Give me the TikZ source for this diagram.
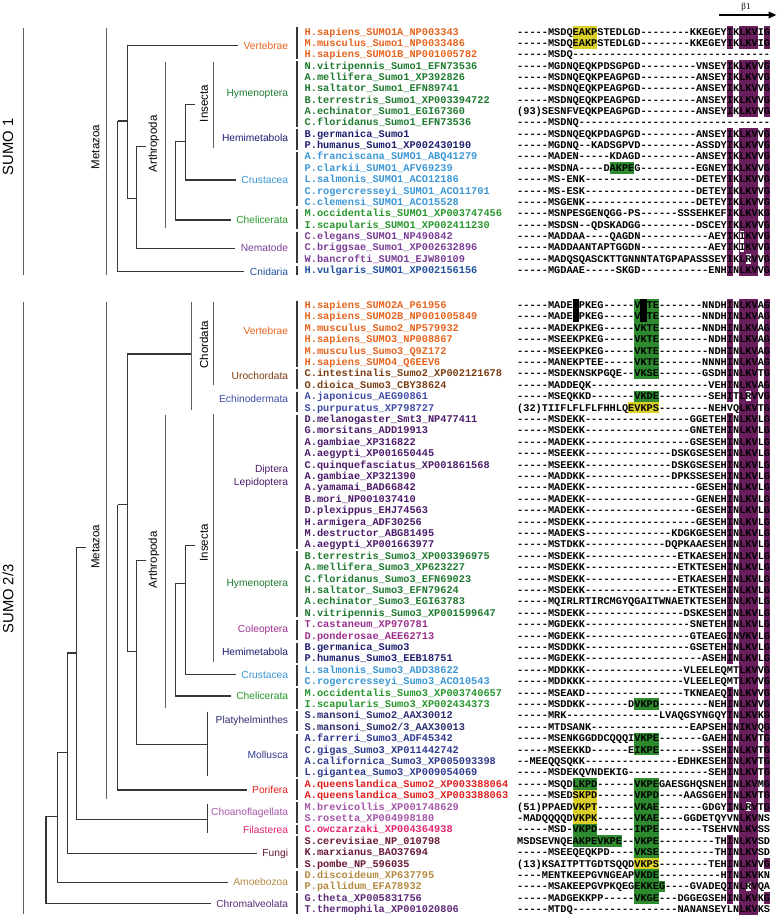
\documentclass[tikz,border=0pt]{standalone}
\usepackage{fontspec}
\usetikzlibrary{arrows.meta}
\newfontfamily\seqfont{Liberation Mono}[Ligatures=TeXOff]
\newfontfamily\labfont{Liberation Sans}
\newfontfamily\betafont{Liberation Serif}
\ExplSyntaxOn
\cs_new:Npn \gaps #1 { \prg_replicate:nn {#1} { -{} } }
\ExplSyntaxOff
\definecolor{treegrey}{RGB}{55,55,55}
\definecolor{bargrey}{RGB}{95,95,95}
\definecolor{hlpurple}{RGB}{106,30,94}
\definecolor{hlgreen}{RGB}{46,138,46}
\definecolor{hlyellow}{RGB}{220,208,40}
\definecolor{vertcol}{RGB}{230,100,30}
\definecolor{hymcol}{RGB}{30,122,48}
\definecolor{hemicol}{RGB}{30,30,112}
\definecolor{crustcol}{RGB}{58,150,214}
\definecolor{chelcol}{RGB}{40,150,44}
\definecolor{nemcol}{RGB}{122,62,150}
\definecolor{cnidcol}{RGB}{32,80,160}
\definecolor{urocol}{RGB}{122,62,20}
\definecolor{echicol}{RGB}{62,76,168}
\definecolor{diptcol}{RGB}{76,26,106}
\definecolor{colecol}{RGB}{156,46,142}
\definecolor{platcol}{RGB}{44,46,112}
\definecolor{mollcol}{RGB}{46,58,142}
\definecolor{poricol}{RGB}{226,30,30}
\definecolor{choacol}{RGB}{166,86,168}
\definecolor{filacol}{RGB}{226,36,112}
\definecolor{fungcol}{RGB}{106,24,60}
\definecolor{amoecol}{RGB}{180,138,64}
\definecolor{chromcol}{RGB}{92,42,118}
\begin{document}
\begin{tikzpicture}[x=1pt, y=-1pt,
    declare function={ty(\q)=31.7+11.35*(\q-1); by(\q)=305+11.4*(\q-1); cx(\q)=517+6.17*(\q-1);},
    seqname/.style={font=\seqfont\bfseries\fontsize{10.28}{12}\selectfont, anchor=base west, inner sep=0pt},
    seqtext/.style={seqname, text=black},
    taxon/.style={font=\labfont\fontsize{10.25}{12.8}\selectfont, anchor=east, inner xsep=5.5pt, inner ysep=0pt, text height=7.3pt, text depth=0pt},
    clade/.style={font=\labfont\fontsize{11.5}{13}\selectfont, rotate=90, inner sep=0pt},
    sumo/.style={font=\labfont\fontsize{14.8}{17}\selectfont, rotate=90, inner sep=0pt},
    branch/.style={draw=treegrey, line width=1.2pt},
    bracket/.style={draw=bargrey, line width=1pt},
    groupbar/.style={draw=treegrey, line width=1.1pt},
    notch/.style={fill=white}
]
\useasboundingbox (0,0) rectangle (777,916);

% conserved columns
\foreach \a/\b in {1/2,4/8,10/22}{
  \fill[hlpurple] ({cx(35)},{ty(\a)-5.7}) rectangle ({cx(36)},{ty(\b)+5.7});
  \fill[hlpurple] ({cx(37)},{ty(\a)-5.7}) rectangle ({cx(40)},{ty(\b)+5.7});
  \fill[hlpurple] ({cx(41)},{ty(\a)-5.7}) rectangle ({cx(42)},{ty(\b)+5.7});
}
\foreach \a/\b in {1/9,11/32,35/45,48/53}
  \fill[hlpurple] ({cx(35)},{by(\a)-5.7}) rectangle ({cx(36)},{by(\b)+5.7});
\fill[hlpurple] ({cx(37)},{by(1)-5.7}) rectangle ({cx(40)},{by(54)+5.7});
\foreach \a/\b in {1/45,50/50,53/53}
  \fill[hlpurple] ({cx(41)},{by(\a)-5.7}) rectangle ({cx(42)},{by(\b)+5.7});
\fill[notch] ({cx(37)+0.9},{ty(19)-4.8}) rectangle ({cx(38)-0.9},{ty(20)+4.8});
\fill[notch] ({cx(38)+0.9},{ty(21)-4.8}) rectangle ({cx(39)-0.9},{ty(21)+4.8});
\foreach \w in {9,45,52}
  \fill[notch] ({cx(38)+0.9},{by(\w)-4.8}) rectangle ({cx(39)-0.9},{by(\w)+4.8});

% motif boxes
\fill[hlyellow] ({cx(10)},{ty(1)-5.7}) rectangle ({cx(14)},{ty(2)+5.7});
\fill[hlgreen] ({cx(16)},{ty(13)-5.7}) rectangle ({cx(20)},{ty(13)+5.7});
\fill[hlgreen] ({cx(20)},{by(1)-5.7}) rectangle ({cx(24)},{by(7)+5.7});
\fill[black] ({cx(10)},{by(1)-5.7}) rectangle ({cx(11)},{by(2)+5.7});
\fill[black] ({cx(21)},{by(1)-5.7}) rectangle ({cx(22)},{by(2)+5.7});
\fill[hlgreen] ({cx(20)},{by(9)-5.7}) rectangle ({cx(24)},{by(9)+5.7});
\fill[hlyellow] ({cx(19)},{by(10)-5.7}) rectangle ({cx(24)},{by(10)+5.7});
\fill[hlgreen] ({cx(20)},{by(36)-5.7}) rectangle ({cx(24)},{by(36)+5.7});
\fill[hlgreen] ({cx(20)},{by(39)-5.7}) rectangle ({cx(24)},{by(40)+5.7});
\fill[hlgreen] ({cx(10)},{by(43)-5.7}) rectangle ({cx(14)},{by(43)+5.7});
\fill[hlyellow] ({cx(10)},{by(44)-5.7}) rectangle ({cx(14)},{by(46)+5.7});
\fill[hlgreen] ({cx(10)},{by(47)-5.7}) rectangle ({cx(14)},{by(48)+5.7});
\fill[hlgreen] ({cx(14)},{by(48)-5.7}) rectangle ({cx(18)},{by(48)+5.7});
\fill[hlgreen] ({cx(20)},{by(43)-5.7}) rectangle ({cx(24)},{by(49)+5.7});
\fill[hlyellow] ({cx(20)},{by(50)-5.7}) rectangle ({cx(24)},{by(50)+5.7});
\fill[hlgreen] ({cx(20)},{by(51)-5.7}) rectangle ({cx(24)},{by(53)+5.7});
\fill[hlgreen] ({cx(24)},{by(52)-5.7}) rectangle ({cx(25)},{by(52)+5.7});

% SUMO 1 sequences
\foreach \sp/\cl/\sq [count=\i] in {
  H.sapiens\_SUMO1A\_NP003343/vertcol/\gaps{5}MSDQEAKPSTEDLGD\gaps{8}KKEGEYIKLKVIG,
  M.musculus\_Sumo1\_NP0033486/vertcol/\gaps{5}MSDQEAKPSTEDLGD\gaps{8}KKEGEYIKLKVIG,
  H.sapiens\_SUMO1B\_NP001005782/vertcol/\gaps{5}MSDQ\gaps{32},
  N.vitripennis\_Sumo1\_EFN73536/hymcol/\gaps{5}MGDNQEQKPDSGPGD\gaps{9}VNSEYIKLKVVG,
  A.mellifera\_Sumo1\_XP392826/hymcol/\gaps{5}MSDNQEQKPEAGPGD\gaps{9}ANSEYIKLKVVG,
  H.saltator\_Sumo1\_EFN89741/hymcol/\gaps{5}MSDNQEQKPEAGPGD\gaps{9}ANSEYIKLKVVG,
  B.terrestris\_Sumo1\_XP003394722/hymcol/\gaps{5}MSDNQEQKPEAGPGD\gaps{9}ANSEYIKLKVVG,
  A.echinator\_Sumo1\_EGI67360/hymcol/(93)SESNFVEQKPEAGPGD\gaps{9}ANSEYIKLKVVG,
  C.floridanus\_Sumo1\_EFN73536/hymcol/\gaps{5}MSDNQ\gaps{31},
  B.germanica\_Sumo1/hemicol/\gaps{5}MSDNQEQKPDAGPGD\gaps{9}ANSEYIKLKVVG,
  P.humanus\_Sumo1\_XP002430190/hemicol/\gaps{5}MGDNQ\gaps{2}KADSGPVD\gaps{9}ASSDYIKLKVVG,
  A.franciscana\_SUMO1\_ABQ41279/crustcol/\gaps{5}MADEN\gaps{5}KDAGD\gaps{9}ANSEYIKLKVVG,
  P.clarkii\_SUMO1\_AFV69239/crustcol/\gaps{5}MSDNA\gaps{4}DAKPEG\gaps{9}EGNEYIKLKVVG,
  L.salmonis\_SUMO1\_ACO12186/crustcol/\gaps{5}MS-ENK\gaps{18}DETEYIKLKVVG,
  C.rogercresseyi\_SUMO1\_ACO11701/crustcol/\gaps{5}MS-ESK\gaps{18}DETEYIKLKVVG,
  C.clemensi\_SUMO1\_ACO15528/crustcol/\gaps{5}MSGENK\gaps{18}DETEYIKLKVVG,
  M.occidentalis\_SUMO1\_XP003747456/chelcol/\gaps{5}MSNPESGENQGG-PS\gaps{6}SSSEHKEFIKLKVKG,
  I.scapularis\_SUMO1\_XP002411230/chelcol/\gaps{5}MSDSN\gaps{2}QDSKADGG\gaps{9}DSCEYIKLKVVG,
  C.elegans\_SUMO1\_NP490842/nemcol/\gaps{5}MADDAA\gaps{4}QAGDN\gaps{11}AEYIKIKVVG,
  C.briggsae\_Sumo1\_XP002632896/nemcol/\gaps{5}MADDAANTAPTGGDN\gaps{11}AEYIKIKVVG,
  W.bancrofti\_SUMO1\_EJW80109/nemcol/\gaps{5}MADQSQASCKTTGNNNTATGPAPASSSEYIKLRVVG,
  H.vulgaris\_SUMO1\_XP002156156/cnidcol/\gaps{5}MGDAAE\gaps{5}SKGD\gaps{11}ENHINLKVVG}{
  \node[seqname, text=\cl] (spa\i) at (304.5,{ty(\i)+3.4}) {\sp};
  \node[seqtext] (ala\i) at (517,{ty(\i)+3.4}) {\sq};
}

% SUMO 2/3 sequences
\foreach \sp/\cl/\sq [count=\i] in {
  H.sapiens\_SUMO2A\_P61956/vertcol/\gaps{5}MADEKPKEG\gaps{5}VKTE\gaps{7}NNDHINLKVAG,
  H.sapiens\_SUMO2B\_NP001005849/vertcol/\gaps{5}MADEKPKEG\gaps{5}VKTE\gaps{7}NNDHINLKVAG,
  M.musculus\_Sumo2\_NP579932/vertcol/\gaps{5}MADEKPKEG\gaps{5}VKTE\gaps{7}NNDHINLKVAG,
  H.sapiens\_SUMO3\_NP008867/vertcol/\gaps{5}MSEEKPKEG\gaps{5}VKTE\gaps{8}NDHINLKVAG,
  M.musculus\_Sumo3\_Q9Z172/vertcol/\gaps{5}MSEEKPKEG\gaps{5}VKTE\gaps{8}NDHINLKVAG,
  H.sapiens\_SUMO4\_Q6EEV6/vertcol/\gaps{5}MANEKPTEE\gaps{5}VKTE\gaps{7}NNNHINLKVAG,
  C.intestinalis\_Sumo2\_XP002121678/urocol/\gaps{5}MSDEKNSKPGQE\gaps{2}VKSE\gaps{7}GSDHINLKVTG,
  O.dioica\_Sumo3\_CBY38624/urocol/\gaps{5}MADDEQK\gaps{19}VEHINLKVAG,
  A.japonicus\_AEG90861/echicol/\gaps{5}MSEQKKD\gaps{7}VKDE\gaps{8}SEHITLRVVG,
  S.purpuratus\_XP798727/echicol/(32)TIIFLFLFLFHHLQEVKPS\gaps{8}NEHVQLKVTG,
  D.melanogaster\_Smt3\_NP477411/diptcol/\gaps{5}MSDEKK\gaps{17}GGETEHINLKVLG,
  G.morsitans\_ADD19913/diptcol/\gaps{5}MSDEKK\gaps{17}GNETEHINLKVLG,
  A.gambiae\_XP316822/diptcol/\gaps{5}MADEKK\gaps{17}GSESEHINLKVLG,
  A.aegypti\_XP001650445/diptcol/\gaps{5}MSEEKK\gaps{14}DSKGSESEHINLKVLG,
  C.quinquefasciatus\_XP001861568/diptcol/\gaps{5}MSEEKK\gaps{14}DSKGSESEHINLKVLG,
  A.gambiae\_XP321390/diptcol/\gaps{5}MADDKK\gaps{14}DPKSSESEHINLKVLG,
  A.yamamai\_BAD66842/diptcol/\gaps{5}MADEKK\gaps{18}GESEHINLKVLG,
  B.mori\_NP001037410/diptcol/\gaps{5}MADEKK\gaps{18}GENEHINLKVLG,
  D.plexippus\_EHJ74563/diptcol/\gaps{5}MADEKK\gaps{18}GESEHINLKVLG,
  H.armigera\_ADF30256/diptcol/\gaps{5}MSDEKK\gaps{18}GESEHINLKVLG,
  M.destructor\_ABG81495/diptcol/\gaps{5}MADEKS\gaps{14}KDGKGESEHINLKVLG,
  A.aegypti\_XP001663977/diptcol/\gaps{5}MSTDKK\gaps{13}DQPKAAESEHINLKVLG,
  B.terrestris\_Sumo3\_XP003396975/hymcol/\gaps{5}MSDEKK\gaps{15}ETKAESEHINLKVLG,
  A.mellifera\_Sumo3\_XP623227/hymcol/\gaps{5}MSDEKK\gaps{15}ETKTESEHINLKVLG,
  C.floridanus\_Sumo3\_EFN69023/hymcol/\gaps{5}MSDEKK\gaps{15}ETKAESEHINLKVLG,
  H.saltator\_Sumo3\_EFN79624/hymcol/\gaps{5}MSDEKK\gaps{15}ETKTESEHINLKVLG,
  A.echinator\_Sumo3\_EGI63783/hymcol/\gaps{5}MQIRLRTIRCMGYQGAITWNAETKTESEHINLKVLG,
  N.vitripennis\_Sumo3\_XP001599647/hymcol/\gaps{5}MSDEKK\gaps{16}DSKESEHINLKVLG,
  T.castaneum\_XP970781/colecol/\gaps{5}MGDEKK\gaps{17}SNETEHINLKVLG,
  D.ponderosae\_AEE62713/colecol/\gaps{5}MGDEKK\gaps{17}GTEAEGINVKVLG,
  B.germanica\_Sumo3/hemicol/\gaps{5}MSDDKK\gaps{17}GSETEHINLKVLG,
  P.humanus\_Sumo3\_EEB18751/hemicol/\gaps{5}MGDEKK\gaps{19}ASEHINLKVLG,
  L.salmonis\_Sumo3\_ADD38622/crustcol/\gaps{5}MDDKKK\gaps{16}VLEELEQMTLKVVG,
  C.rogercresseyi\_Sumo3\_ACO10543/crustcol/\gaps{5}MDDKKK\gaps{16}VLEELEQMTLKVVG,
  M.occidentalis\_Sumo3\_XP003740657/chelcol/\gaps{5}MSEAKD\gaps{16}TKNEAEQINLKVVG,
  I.scapularis\_Sumo3\_XP002434373/chelcol/\gaps{5}MSDDKK\gaps{7}DVKPD\gaps{8}NEHINLKVVG,
  S.mansoni\_Sumo2\_AAX30012/platcol/\gaps{5}MRK\gaps{15}LVAQGSYNGQYINLKVKG,
  S.mansoni\_Sumo2\slash3\_AAX30013/platcol/\gaps{5}MTDSANK\gaps{16}EAPSEHINIKVQG,
  A.farreri\_Sumo3\_ADF45342/mollcol/\gaps{5}MSENKGGDDCQQQIVKPE\gaps{7}GAEHINLKVTG,
  C.gigas\_Sumo3\_XP011442742/mollcol/\gaps{5}MSEEKKD\gaps{6}EIKPE\gaps{7}SSEHINLKVTG,
  A.californica\_Sumo3\_XP005093398/mollcol/\gaps{2}MEEQQSQKK\gaps{15}EDHKESEHINLKVTG,
  L.gigantea\_Sumo3\_XP009054069/mollcol/\gaps{5}MSDEKQVNDEKIG\gaps{13}SEHINLKVTG,
  A.queenslandica\_Sumo2\_XP003388064/poricol/\gaps{5}MSQDLKPD\gaps{6}VKPEGAESGHQSNEHINLKVMG,
  A.queenslandica\_Sumo3\_XP003388063/poricol/\gaps{5}MSEDSKPD\gaps{6}VKPD\gaps{4}AAGSGEHINLKVTG,
  M.brevicollis\_XP001748629/choacol/(51)PPAEDVKPT\gaps{6}VKAE\gaps{7}GDGYINLRVTG,
  S.rosetta\_XP004998180/choacol/\gaps{1}MADQQQQDVKPK\gaps{6}VKAE\gaps{4}GGDETQYVNLKVNS,
  C.owczarzaki\_XP004364938/filacol/\gaps{5}MSD-VKPD\gaps{6}IKPE\gaps{7}TSEHVNLKVSS,
  S.cerevisiae\_NP\_010798/fungcol/MSDSEVNQEAKPEVKPE\gaps{2}VKPE\gaps{9}THINLKVSD,
  K.marxianus\_BAO37694/fungcol/\gaps{5}MSEEQEQKPD\gaps{4}VKSE\gaps{9}THINLKVSD,
  S.pombe\_NP\_596035/fungcol/(13)KSAITPTTGDTSQQDVKPS\gaps{8}TEHINLKVVG,
  D.discoideum\_XP637795/amoecol/\gaps{4}MENTKEEPGVNGEAPVKDE\gaps{10}HINLKVKN,
  P.pallidum\_EFA78932/amoecol/\gaps{5}MSAKEEPGVPKQEGEKKEG\gaps{4}GVADEQINLRVQA,
  G.theta\_XP005831756/chromcol/\gaps{5}MADGEKKPP\gaps{5}VKGE\gaps{3}DGGEGSEHINLKVKG,
  T.thermophila\_XP001020806/chromcol/\gaps{5}MTDQ\gaps{17}NANANSEYLNLKVKS}{
  \node[seqname, text=\cl] (spb\i) at (304.5,{by(\i)+3.4}) {\sp};
  \node[seqtext] (alb\i) at (517,{by(\i)+3.4}) {\sq};
}

% group bars
\foreach \a/\b in {1/3,4/9,10/11,12/16,17/18,19/21,22/22}
  \draw[groupbar] (297,{ty(\a)-4.5}) -- (297,{ty(\b)+4.5});
\foreach \a/\b in {1/6,7/8,9/10,11/22,23/28,29/30,31/32,33/34,35/36,37/38,39/42,43/44,45/46,47/47,48/50,51/52,53/54}
  \draw[groupbar] (297,{by(\a)-4.5}) -- (297,{by(\b)+4.5});

% SUMO 1 tree
\node[sumo] (sumo1) at (8,147) {SUMO 1};
\node[clade] (meta1) at (95.5,147) {Metazoa};
\node[clade] (arth1) at (154,144) {Arthropoda};
\node[clade] (ins1) at (204,103.5) {Insecta};
\node[taxon, text=vertcol] (vert1) at (293.8,45.7) {Vertebrae};
\node[taxon, text=hymcol] (hym1) at (293.8,93.3) {Hymenoptera};
\node[taxon, text=hemicol] (hemi1) at (293.8,138.3) {Hemimetabola};
\node[taxon, text=crustcol] (crus1) at (293.8,180) {Crustacea};
\node[taxon, text=chelcol] (chel1) at (293.8,220) {Chelicerata};
\node[taxon, text=nemcol] (nem1) at (293.8,248.3) {Nematode};
\node[taxon, text=cnidcol] (cnid1) at (293.8,271.7) {Cnidaria};
\coordinate (s1root) at (117.7,121);
\coordinate (s1a) at (127.7,121);
\coordinate (s1b) at (127.7,198.3);
\coordinate (s1c) at (136.7,198.3);
\coordinate (s1arth) at (136.7,146.7);
\coordinate (s1arthend) at (145.7,146.7);
\coordinate (s1d) at (175.7,141.7);
\coordinate (s1e) at (185.7,141.7);
\coordinate (s1ins) at (185.7,104.3);
\coordinate (s1insend) at (195,104.3);
\draw[branch] (s1root) |- (cnid1.west);
\draw[branch] (s1root) -- (s1a);
\draw[branch] (vert1.west) -| (s1b) -- (s1c);
\draw[branch] (s1arthend) -- (s1arth) |- (nem1.west);
\draw[branch] (chel1.west) -| (s1d) -- (s1e);
\draw[branch] (s1insend) -- (s1ins) |- (crus1.west);
\draw[bracket] (23.3,28) -- (23.3,275);
\draw[bracket] (106.7,28) -- (106.7,275);
\draw[bracket] (165,61.7) -- (165,228.3);
\draw[bracket] (213.7,61.7) -- (213.7,147.7);

% SUMO 2/3 tree
\node[sumo] (sumo2) at (8,599) {SUMO 2/3};
\node[clade] (meta2) at (95.5,546.7) {Metazoa};
\node[clade] (arth2) at (154,559.7) {Arthropoda};
\node[clade] (ins2) at (204,542.8) {Insecta};
\node[clade] (chord2) at (204,344.9) {Chordata};
\node[taxon, text=vertcol] (vert2) at (293.8,330.4) {Vertebrae};
\node[taxon, text=urocol] (uro2) at (293.8,376.3) {Urochordata};
\node[taxon, text=echicol] (echi2) at (293.8,399.1) {Echinodermata};
\node[taxon, text=diptcol, align=right, text height=, text depth=] (dipt2) at (293.8,476) {Diptera\\Lepidoptera};
\node[taxon, text=hymcol] (hym2) at (293.8,583.2) {Hymenoptera};
\node[taxon, text=colecol] (cole2) at (293.8,629) {Coleoptera};
\node[taxon, text=hemicol] (hemi2) at (293.8,651.7) {Hemimetabola};
\node[taxon, text=crustcol] (crus2) at (293.8,674.4) {Crustacea};
\node[taxon, text=chelcol] (chel2) at (293.8,696) {Chelicerata};
\node[taxon, text=platcol] (plat2) at (293.8,720.3) {Platyhelminthes};
\node[taxon, text=mollcol] (moll2) at (293.8,754.7) {Mollusca};
\node[taxon, text=poricol] (pori2) at (293.8,790) {Porifera};
\node[taxon, text=choacol] (choa2) at (293.8,812.3) {Choanoflagellata};
\node[taxon, text=filacol] (fila2) at (293.8,830) {Filasterea};
\node[taxon, text=fungcol] (fung2) at (293.8,853.3) {Fungi};
\node[taxon, text=amoecol] (amoe2) at (293.8,882.1) {Amoebozoa};
\node[taxon, text=chromcol] (chrom2) at (293.8,903.5) {Chromalveolata};
\coordinate (s2root) at (46,816.3);
\coordinate (s2a) at (57.7,816.3);
\coordinate (s2b) at (57.7,752.8);
\coordinate (s2c) at (67.3,752.8);
\coordinate (s2d) at (67.3,652.9);
\coordinate (s2e) at (76.7,652.9);
\coordinate (s2meta) at (76.7,547.8);
\coordinate (s2metaend) at (86,547.8);
\coordinate (s2f) at (76.7,819.4);
\coordinate (s2choa) at (207.3,819.4);
\coordinate (s2choatop) at (207.3,804.3);
\coordinate (s2choabot) at (207.3,832.8);
\coordinate (s2g) at (117.7,504.5);
\coordinate (s2h) at (127.7,504.5);
\coordinate (s2i) at (127.7,354);
\coordinate (s2deut) at (191,354);
\coordinate (s2j) at (127.7,651.7);
\coordinate (s2k) at (136.7,651.7);
\coordinate (s2arth) at (136.7,560.8);
\coordinate (s2arthend) at (145.7,560.8);
\coordinate (s2l) at (136.7,744.6);
\coordinate (s2lopho) at (207.3,744.6);
\coordinate (s2lophotop) at (207.3,711.6);
\coordinate (s2lophobot) at (207.3,776.3);
\coordinate (s2m) at (175.7,583.2);
\coordinate (s2n) at (185.7,583.2);
\coordinate (s2ins) at (185.7,545.2);
\coordinate (s2insend) at (195,545.2);
\draw[branch] (s2root) |- (chrom2.west);
\draw[branch] (s2root) -- (s2a);
\draw[branch] (amoe2.west) -| (s2b) -- (s2c);
\draw[branch] (fung2.west) -| (s2d) -- (s2e);
\draw[branch] (s2metaend) -- (s2meta) -- (s2f) -- (s2choa);
\draw[branch] (s2choatop) -- (s2choabot);
\draw[branch] (s2g) |- (pori2.west);
\draw[branch] (s2g) -- (s2h);
\draw[branch] (s2deut) -- (s2i) -- (s2j) -- (s2k);
\draw[branch] (s2arthend) -- (s2arth) -- (s2l) -- (s2lopho);
\draw[branch] (s2lophotop) -- (s2lophobot);
\draw[branch] (chel2.west) -| (s2m) -- (s2n);
\draw[branch] (s2insend) -- (s2ins) |- (crus2.west);
\draw[bracket] (23.3,301.7) -- (23.3,914);
\draw[bracket] (106.7,301.7) -- (106.7,798.6);
\draw[bracket] (191,301.7) -- (191,409.7);
\draw[bracket] (213.7,301.7) -- (213.7,385.3);
\draw[bracket] (165,414.7) -- (165,707.8);
\draw[bracket] (213.7,413.9) -- (213.7,661.5);

% beta strand
\node[font=\betafont\fontsize{9}{10}\selectfont, inner sep=0pt] (beta1) at (746,7) {β1};
\coordinate (b1start) at (719,15);
\coordinate (b1end) at (776.5,15);
\draw[line width=1.8pt, -{Triangle[length=8pt,width=6.5pt]}] (b1start) -- (b1end);
\end{tikzpicture}
\end{document}
